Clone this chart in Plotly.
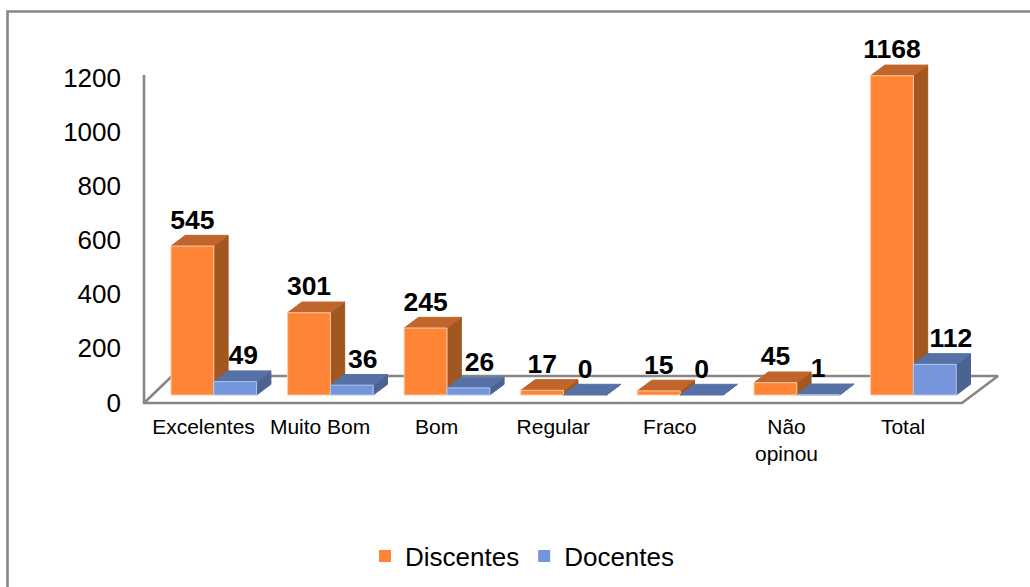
import plotly.graph_objects as go

categories = ["Excelentes", "Muito Bom", "Bom", "Regular", "Fraco", "Não<br>opinou", "Total"]
discentes = [545, 301, 245, 17, 15, 45, 1168]
docentes = [49, 36, 26, 0, 0, 1, 112]
y_ticks = [0, 200, 400, 600, 800, 1000, 1200]

W, H = 1030, 587
STEP = 116.6            # px per category
X0 = 203.5              # px of first category label
K = 0.2733              # px per value for the bars
BASE = 395              # px of bar base
K_AX = 0.2708           # px per value for the printed axis
BASE_AX = 402.5
BAR_W = 42.8 / STEP
GAP_L = (X0 - 171) / STEP   # left edge of orange relative to category
DX = 14.3 / STEP
DY = 10.7 / K
LABEL_UP = 24
BLUE_LABEL_DX = [8, 11, 11, 0, 0, 0, 16]

ORANGE = dict(front="#FE8535", side="#A1571F", top="#C0652B", edge="#FFC9A6")
BLUE = dict(front="#7596DA", side="#4B6390", top="#5571A6", edge="#B4C6EA")
GRAY = "#868686"


def xd(px):
    return (px - X0) / STEP


def yd(px):
    return (BASE - px) / K


fig = go.Figure()

# floor and wall
fig.add_trace(go.Scatter(
    x=[xd(144), xd(144), xd(962), xd(998), xd(172), xd(144)],
    y=[yd(75), yd(403), yd(403), yd(376), yd(376), yd(403)],
    mode="lines", line=dict(color=GRAY, width=2.6), showlegend=False, hoverinfo="skip"))


def poly(xs, ys, color, edge=None):
    fig.add_trace(go.Scatter(
        x=xs + xs[:1], y=ys + ys[:1], mode="lines", fill="toself", fillcolor=color,
        line=dict(color=edge or color, width=1), showlegend=False, hoverinfo="skip"))


def bar3d(left, value, c):
    r = left + BAR_W
    poly([r, r + DX, r + DX, r], [0, DY, value + DY, value], c["side"])
    poly([left, r, r + DX, left + DX], [value, value, value + DY, value + DY], c["top"])
    if value > 0:
        poly([left, r, r, left], [0, 0, value, value], c["front"], c["edge"])


for i in range(len(categories)):
    left = i - GAP_L
    bar3d(left, discentes[i], ORANGE)
    bar3d(left + BAR_W, docentes[i], BLUE)

# data labels
label_font = dict(family="Liberation Sans", size=26.5, color="#000000")
fig.add_trace(go.Scatter(
    x=[i - GAP_L + BAR_W / 2 for i in range(len(categories))],
    y=[v + LABEL_UP / K for v in discentes],
    text=[str(v) for v in discentes], mode="text", textposition="middle center",
    textfont=label_font, texttemplate="<b>%{text}</b>", showlegend=False, hoverinfo="skip"))
fig.add_trace(go.Scatter(
    x=[i - GAP_L + BAR_W * 1.5 + BLUE_LABEL_DX[i] / STEP for i in range(len(categories))],
    y=[v + LABEL_UP / K for v in docentes],
    text=[str(v) for v in docentes], mode="text", textposition="middle center",
    textfont=label_font, texttemplate="<b>%{text}</b>", showlegend=False, hoverinfo="skip"))

# legend entries and the printed value axis
fig.add_trace(go.Scatter(x=[None], y=[None], mode="markers", name="Discentes",
                         marker=dict(symbol="square", size=15, color="#FE8535")))
fig.add_trace(go.Scatter(x=[None], y=[None], mode="markers", name="Docentes",
                         marker=dict(symbol="square", size=15, color="#7596DA")))
fig.add_trace(go.Scatter(x=[None], y=[None], yaxis="y2", mode="markers", showlegend=False))

fig.update_layout(
    width=W, height=H, margin=dict(l=0, r=0, t=0, b=0, autoexpand=False),
    paper_bgcolor="#ffffff", plot_bgcolor="#ffffff",
    font=dict(family="Liberation Sans", color="#000000"),
    xaxis=dict(range=[xd(0), xd(W)], domain=[0, 1], anchor="free", position=1 - 403 / H,
               tickmode="array", tickvals=list(range(len(categories))), ticktext=categories,
               tickfont=dict(size=21), ticks="", showgrid=False, zeroline=False,
               showline=False, ticklabelstandoff=9),
    yaxis=dict(range=[yd(H), yd(0)], domain=[0, 1], visible=False, showgrid=False),
    yaxis2=dict(range=[(BASE_AX - H) / K_AX, BASE_AX / K_AX], domain=[0, 1], overlaying="y",
                anchor="free", position=144 / W, side="left",
                tickmode="array", tickvals=y_ticks, tickfont=dict(size=26),
                ticks="", showgrid=False, zeroline=False, showline=False,
                ticklabelstandoff=23),
    legend=dict(orientation="h", x=522 / W, xanchor="center", y=1 - 556 / H, yanchor="middle",
                font=dict(size=26), itemsizing="constant", bgcolor="rgba(0,0,0,0)"),
    shapes=[dict(type="rect", xref="paper", yref="paper", x0=7.5 / W, x1=1.02,
                 y0=-0.02, y1=1 - 11.5 / H, line=dict(color=GRAY, width=2.6), layer="below")],
)

fig.write_html("out.html", config={"displayModeBar": False},
               post_script="document.body.style.margin='0';document.documentElement.style.overflow='hidden';")
